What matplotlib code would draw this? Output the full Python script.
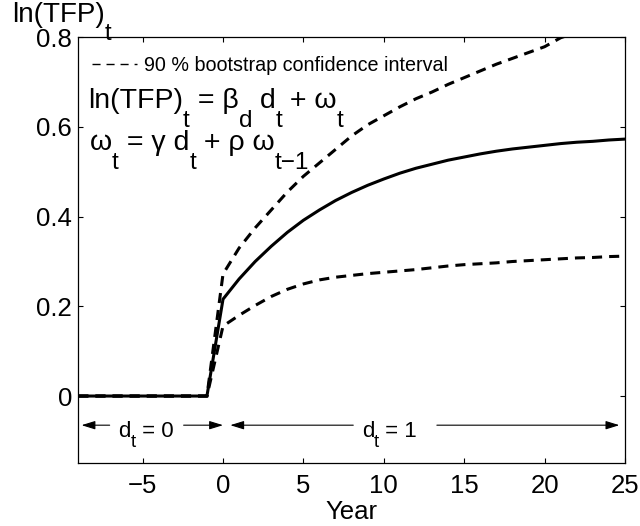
import matplotlib
matplotlib.use("Agg")
import matplotlib.pyplot as plt
from matplotlib.lines import Line2D

plt.rcParams['font.family'] = ['Liberation Sans', 'DejaVu Sans']

# ---------------- data ----------------
years = list(range(-9, 26))
pre = [0.0] * 9  # t = -9 .. -1
estimate = pre + [0.216, 0.261, 0.300, 0.334, 0.365, 0.392, 0.415, 0.436, 0.454, 0.470,
                  0.484, 0.497, 0.508, 0.517, 0.526, 0.533, 0.540, 0.546, 0.551, 0.555,
                  0.559, 0.563, 0.566, 0.568, 0.571, 0.573]
upper = pre + [0.272, 0.330, 0.375, 0.415, 0.455, 0.490, 0.520, 0.550, 0.580, 0.605,
               0.625, 0.645, 0.663, 0.678, 0.695, 0.710, 0.725, 0.740, 0.753, 0.766,
               0.779, 0.799, 0.811, 0.823, 0.834, 0.845]
lower = pre + [0.156, 0.180, 0.202, 0.222, 0.238, 0.250, 0.259, 0.265, 0.269, 0.273,
               0.276, 0.279, 0.282, 0.286, 0.290, 0.293, 0.295, 0.297, 0.300, 0.302,
               0.304, 0.306, 0.308, 0.309, 0.311, 0.312]
xticks = [-5, 0, 5, 10, 15, 20, 25]
yticks = [0, 0.2, 0.4, 0.6, 0.8]
legend_label = "90 % bootstrap confidence interval"

W, H = 640, 526
fig = plt.figure(figsize=(W / 100, H / 100), dpi=100)
L, R, T, B = 78.3, 625.0, 37.3, 463.3
ax = fig.add_axes([L / W, 1 - B / H, (R - L) / W, (B - T) / H])

dash = (0, (3.3, 2.3))
ax.plot(years, upper, color='k', lw=2.2, ls=dash, zorder=2)
ax.plot(years, lower, color='k', lw=2.2, ls=dash, zorder=2)
ax.plot(years, estimate, color='k', lw=2.2, zorder=3, solid_joinstyle='miter')

ax.set_xlim(-9, 25)
ax.set_ylim(-0.15, 0.8)
ax.set_xticks(xticks)
ax.set_yticks(yticks)
ax.set_yticklabels(['%g' % v for v in yticks])
ax.tick_params(direction='in', length=3.6, width=0.8, top=True, right=True,
               labelsize=18.5)
ax.tick_params(axis='x', pad=7.5)
ax.tick_params(axis='y', pad=4.5)
for s in ax.spines.values():
    s.set_linewidth(0.9)

ax.set_xlabel('Year', fontsize=18.5, labelpad=2.0)

# legend
h = Line2D([], [], color='k', lw=1.0, ls=(0, (5.8, 4.3)))
ax.legend([h], [legend_label], loc='upper left', frameon=False, fontsize=14.2,
          bbox_to_anchor=(0.025, 0.956), borderpad=0, borderaxespad=0,
          handlelength=2.3, handletextpad=0.35)

renderer = fig.canvas.get_renderer()


def runs(x_img, y_img, parts, size, ha='left', sub_scale=0.85, drop=0.65):
    """Draw text with MATLAB-like subscripts; x_img, y_img: baseline start in image px."""
    em = size * 100 / 72
    objs = []
    x = x_img
    for s, sub in parts:
        fs = size * sub_scale if sub else size
        y = y_img + (drop * em if sub else 0)
        t = fig.text(x / W, 1 - y / H, s, fontsize=fs, va='baseline', ha='left')
        w = t.get_window_extent(renderer).width
        objs.append((t, x, y))
        x += w
    if ha == 'center':
        shift = (x - x_img) / 2
        for t, xx, yy in objs:
            t.set_position(((xx - shift) / W, 1 - yy / H))
    return objs


# y-axis label at top-left
runs(11.7, 21.7, [("ln(TFP)", 0), ("t", 1)], 20)

# model equations
runs(88, 108.3, [("ln(TFP)", 0), ("t", 1), (" = β", 0), ("d", 1), (" d", 0), ("t", 1),
                 (" + ω", 0), ("t", 1)], 20.5)
runs(90, 150, [("ω", 0), ("t", 1), (" = γ d", 0), ("t", 1), (" + ρ ω", 0), ("t−1", 1)], 20.5)

# regime arrows
ay = -0.065
ap = dict(arrowstyle='-|>,head_length=0.55,head_width=0.17', color='k', lw=0.8,
          mutation_scale=15, shrinkA=0, shrinkB=0)
ax.annotate('', xy=(-8.8, ay), xytext=(-7.05, ay), arrowprops=ap)
ax.annotate('', xy=(0.0, ay), xytext=(-2.45, ay), arrowprops=ap)
ax.annotate('', xy=(0.45, ay), xytext=(8.1, ay), arrowprops=ap)
ax.annotate('', xy=(24.65, ay), xytext=(13.3, ay), arrowprops=ap)


def data_to_img(x, y):
    px, py = ax.transData.transform((x, y))
    return px, H - py


x0, yb = data_to_img(-4.8, ay)
runs(x0, yb + 11.5, [("d", 0), ("t", 1), (" = 0", 0)], 16, ha='center', drop=0.48)
x1, yb = data_to_img(10.35, ay)
runs(x1, yb + 11.5, [("d", 0), ("t", 1), (" = 1", 0)], 16, ha='center', drop=0.48)

fig.savefig('out.png', dpi=100)
